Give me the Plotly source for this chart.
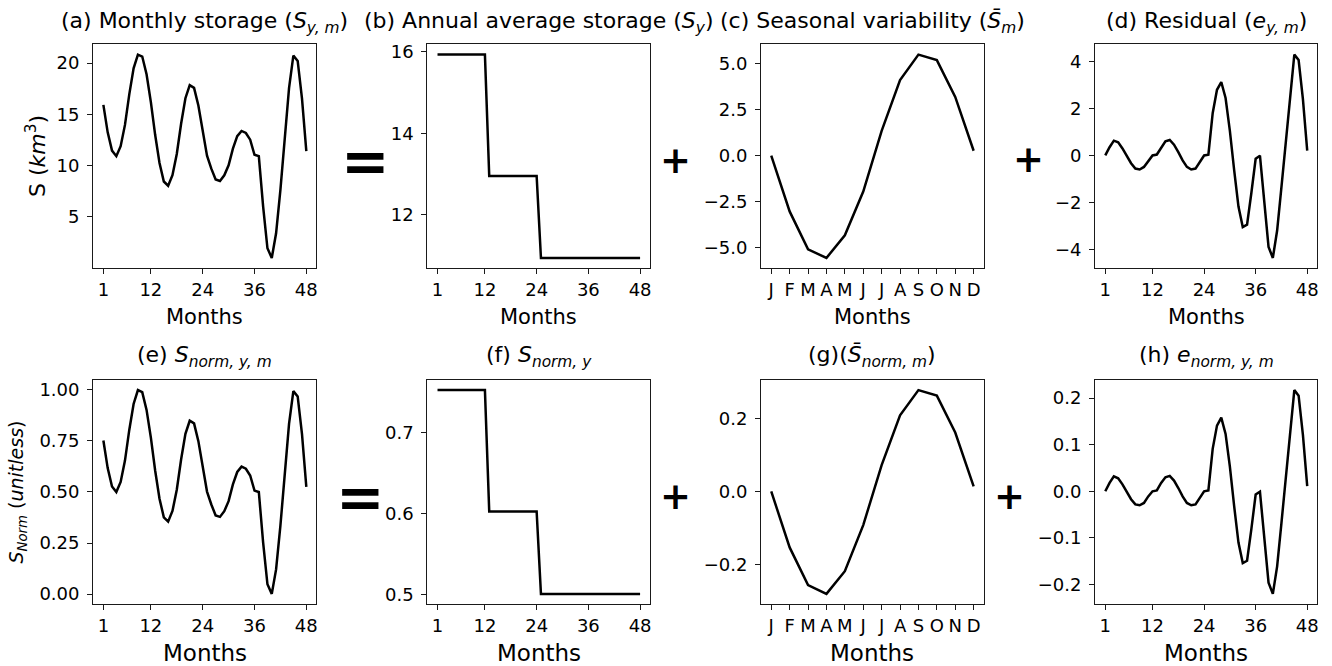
import plotly.graph_objects as go

# ---------------- data ----------------
months = list(range(1, 49))
month_idx = list(range(1, 13))
month_labels = ["J", "F", "M", "A", "M", "J", "J", "A", "S", "O", "N", "D"]
month_ticks = [1, 12, 24, 36, 48]

storage = [15.93, 13.25, 11.47, 10.93, 11.90, 13.98, 16.95, 19.49, 20.83, 20.64, 18.91, 16.20,
           12.99, 10.27, 8.46, 8.05, 9.08, 11.14, 14.09, 16.58, 17.85, 17.59, 15.87, 13.22,
           10.97, 9.71, 8.65, 8.51, 9.06, 10.04, 11.66, 12.88, 13.39, 13.19, 12.54, 11.07,
           10.93, 6.01, 1.95, 1.01, 3.41, 7.64, 12.85, 17.56, 20.74, 20.21, 16.54, 11.42]

annual_avg = [15.93, 15.93, 15.93, 15.93, 15.93, 15.93, 15.93, 15.93, 15.93, 15.93, 15.93, 15.93,
              12.95, 12.95, 12.95, 12.95, 12.95, 12.95, 12.95, 12.95, 12.95, 12.95, 12.95, 12.95,
              10.94, 10.94, 10.94, 10.94, 10.94, 10.94, 10.94, 10.94, 10.94, 10.94, 10.94, 10.94,
              10.94, 10.94, 10.94, 10.94, 10.94, 10.94, 10.94, 10.94, 10.94, 10.94, 10.94, 10.94]

seasonal = [0.0, -3.03, -5.09, -5.56, -4.33, -1.95, 1.35, 4.12, 5.50, 5.20, 3.20, 0.27]

residual = [0.0, 0.35, 0.63, 0.56, 0.30, 0.0, -0.33, -0.56, -0.60, -0.49, -0.22, 0.0,
            0.04, 0.35, 0.60, 0.66, 0.46, 0.14, -0.21, -0.49, -0.60, -0.56, -0.28, 0.0,
            0.03, 1.80, 2.80, 3.13, 2.45, 1.05, -0.63, -2.18, -3.05, -2.95, -1.60, -0.14,
            -0.01, -1.90, -3.90, -4.37, -3.20, -1.35, 0.56, 2.50, 4.30, 4.07, 2.40, 0.21]

storage_norm = [0.752, 0.617, 0.527, 0.500, 0.549, 0.654, 0.804, 0.931, 0.999, 0.989, 0.902, 0.766,
                0.604, 0.467, 0.376, 0.355, 0.407, 0.511, 0.659, 0.785, 0.849, 0.836, 0.749, 0.616,
                0.502, 0.439, 0.385, 0.378, 0.406, 0.455, 0.537, 0.598, 0.624, 0.614, 0.581, 0.507,
                0.500, 0.252, 0.048, 0.001, 0.121, 0.335, 0.597, 0.834, 0.994, 0.968, 0.783, 0.525]

annual_norm = [0.753, 0.753, 0.753, 0.753, 0.753, 0.753, 0.753, 0.753, 0.753, 0.753, 0.753, 0.753,
               0.603, 0.603, 0.603, 0.603, 0.603, 0.603, 0.603, 0.603, 0.603, 0.603, 0.603, 0.603,
               0.501, 0.501, 0.501, 0.501, 0.501, 0.501, 0.501, 0.501, 0.501, 0.501, 0.501, 0.501,
               0.501, 0.501, 0.501, 0.501, 0.501, 0.501, 0.501, 0.501, 0.501, 0.501, 0.501, 0.501]

seasonal_norm = [0.0, -0.153, -0.256, -0.280, -0.218, -0.092, 0.072, 0.208, 0.277, 0.262, 0.161, 0.014]

residual_norm = [0.0, 0.018, 0.032, 0.028, 0.015, 0.0, -0.017, -0.028, -0.030, -0.025, -0.011, 0.0,
                 0.002, 0.018, 0.030, 0.033, 0.023, 0.007, -0.011, -0.025, -0.030, -0.028, -0.014, 0.0,
                 0.002, 0.091, 0.141, 0.158, 0.123, 0.053, -0.032, -0.110, -0.154, -0.149, -0.081, -0.007,
                 -0.001, -0.096, -0.196, -0.220, -0.161, -0.068, 0.028, 0.126, 0.217, 0.205, 0.121, 0.011]

# ---------------- layout helpers ----------------
W, H = 1332, 666
FONT = "DejaVu Sans"

def px_x(x):
    return x / W

def px_y(y):
    return 1 - y / H

col_px = [(93.3, 316.7), (427.7, 650.7), (761.7, 984.5), (1096.0, 1318.3)]
row_px = [(41.7, 266.7), (379.2, 604.7)]

def pad_range(vals):
    lo, hi = min(vals), max(vals)
    m = 0.05 * (hi - lo)
    return [lo - m, hi + m]

panels = [
    # (x, y, row, col, yticks, ytickformat, title)
    (months, storage, 0, 0, [5, 10, 15, 20], "d",
     "(a) Monthly storage (<i>S</i><sub><i>y, m</i></sub>)"),
    (months, annual_avg, 0, 1, [12, 14, 16], "d",
     "(b) Annual average storage (<i>S</i><sub><i>y</i></sub>)"),
    (month_idx, seasonal, 0, 2, [-5, -2.5, 0, 2.5, 5], ".1f",
     "(c) Seasonal variability (<i>S\u0304</i><sub><i>m</i></sub>)"),
    (months, residual, 0, 3, [-4, -2, 0, 2, 4], "d",
     "(d) Residual (<i>e</i><sub><i>y, m</i></sub>)"),
    (months, storage_norm, 1, 0, [0, 0.25, 0.5, 0.75, 1.0], ".2f",
     "(e) <i>S</i><sub><i>norm, y, m</i></sub>"),
    (months, annual_norm, 1, 1, [0.5, 0.6, 0.7], ".1f",
     "(f) <i>S</i><sub><i>norm, y</i></sub>"),
    (month_idx, seasonal_norm, 1, 2, [-0.2, 0, 0.2], ".1f",
     "(g)(<i>S\u0304</i><sub><i>norm, m</i></sub>)"),
    (months, residual_norm, 1, 3, [-0.2, -0.1, 0, 0.1, 0.2], ".1f",
     "(h) <i>e</i><sub><i>norm, y, m</i></sub>"),
]

fig = go.Figure()
layout = dict(
    width=W, height=H,
    margin=dict(l=0, r=0, t=0, b=0),
    paper_bgcolor="white", plot_bgcolor="white",
    showlegend=False,
    font=dict(family=FONT, size=18, color="black"),
)
annotations = []

for i, (xs, ys, r, c, yt, yfmt, title) in enumerate(panels):
    n = "" if i == 0 else str(i + 1)
    xa, ya = "xaxis" + n, "yaxis" + n
    x0, x1 = col_px[c]
    y0, y1 = row_px[r]
    seasonal_panel = (c == 2)
    fig.add_trace(go.Scatter(x=xs, y=ys, mode="lines",
                             line=dict(color="black", width=2.5),
                             xaxis="x" + n, yaxis="y" + n, hoverinfo="skip"))
    common = dict(showline=True, mirror=True, linecolor="#1a1a1a", linewidth=1.3,
                  ticks="outside", ticklen=5, tickwidth=1.2, tickcolor="#1a1a1a",
                  showgrid=False, zeroline=False,
                  tickfont=dict(family=FONT, size=18, color="black"))
    if seasonal_panel:
        xdict = dict(domain=[px_x(x0), px_x(x1)], anchor="y" + n,
                     range=[0.45, 12.55], tickmode="array",
                     tickvals=month_idx, ticktext=month_labels, **common)
    else:
        xdict = dict(domain=[px_x(x0), px_x(x1)], anchor="y" + n,
                     range=[-1.35, 50.35], tickmode="array",
                     tickvals=month_ticks, ticktext=[str(v) for v in month_ticks], **common)
    ydict = dict(domain=[px_y(y1), px_y(y0)], anchor="x" + n,
                 range=pad_range(ys), tickmode="array", tickvals=yt,
                 tickformat=yfmt, ticklabelstandoff=4, **common)
    layout[xa] = xdict
    layout[ya] = ydict

    # panel title
    ty = 36 if r == 0 else 372
    annotations.append(dict(x=px_x((x0 + x1) / 2), y=px_y(ty), xref="paper", yref="paper",
                            text=title, showarrow=False, xanchor="center", yanchor="bottom",
                            font=dict(family=FONT, size=22, color="black")))
    # x title
    my = 316 if r == 0 else 654
    annotations.append(dict(x=px_x((x0 + x1) / 2), y=px_y(my), xref="paper", yref="paper",
                            text="Months", showarrow=False, xanchor="center", yanchor="middle",
                            font=dict(family=FONT, size=21 if r == 0 else 23, color="black")))

# y titles
annotations.append(dict(x=px_x(36), y=px_y(154), xref="paper", yref="paper",
                        text="S (<i>km</i><sup>3</sup>)", showarrow=False, textangle=-90,
                        xanchor="center", yanchor="middle",
                        font=dict(family=FONT, size=22, color="black")))
annotations.append(dict(x=px_x(17.5), y=px_y(492), xref="paper", yref="paper",
                        text="<i>S</i><sub><i>Norm</i></sub> (<i>unitless</i>)", showarrow=False,
                        textangle=-90, xanchor="center", yanchor="middle",
                        font=dict(family=FONT, size=19, color="black")))

# operators between panels
ops = [("=", 366, 159, 58), ("+", 676.5, 158, 37), ("+", 1029, 157.5, 37),
       ("=", 360.7, 497, 58), ("+", 676.5, 496.7, 37), ("+", 1010, 496, 37)]
for sym, ox, oy, sz in ops:
    annotations.append(dict(x=px_x(ox), y=px_y(oy), xref="paper", yref="paper",
                            text="<b>%s</b>" % sym, showarrow=False,
                            xanchor="center", yanchor="middle",
                            font=dict(family=FONT, size=sz, color="black")))

layout["annotations"] = annotations
fig.update_layout(**layout)
fig.write_html("out.html")
